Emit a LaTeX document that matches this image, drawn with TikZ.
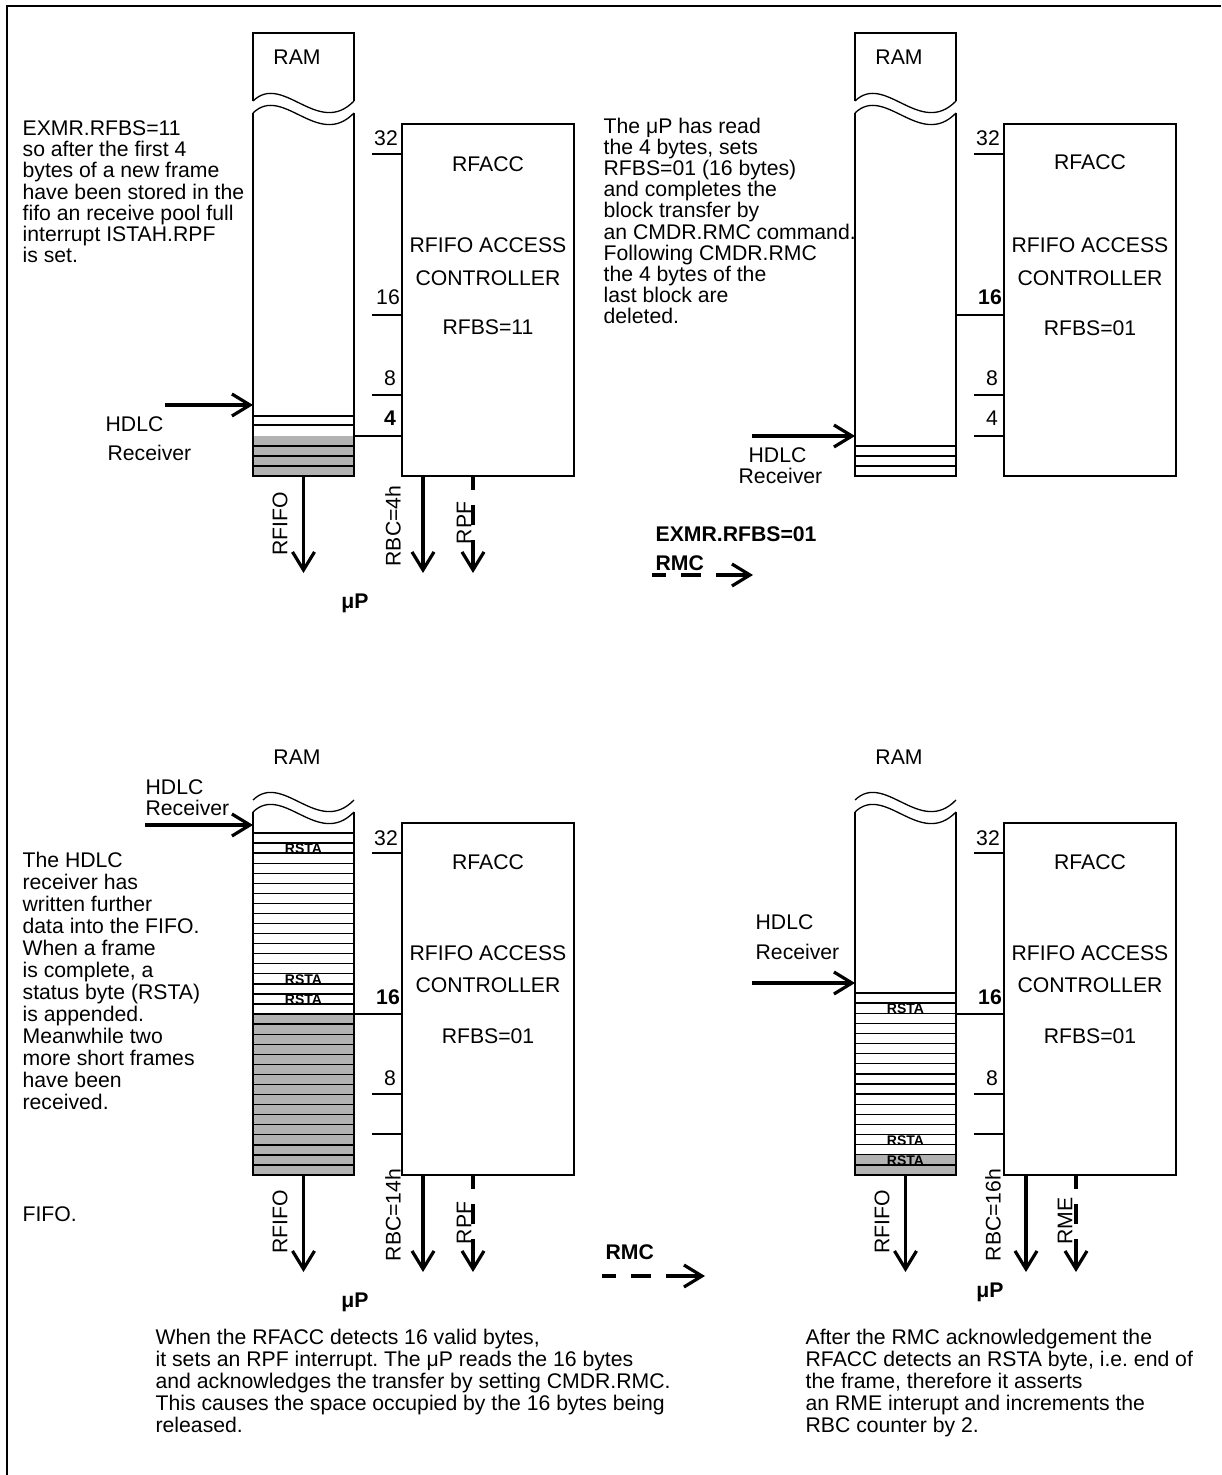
\documentclass[tikz,border=0pt]{standalone}
\usepackage{fontspec}
\setmainfont{Liberation Sans}
\usetikzlibrary{arrows.meta, positioning}
\definecolor{slotgray}{gray}{0.7}
\frenchspacing

% two wave lines that cut the RAM column
\newcommand{\ramwaves}{%
  \draw (253,101) .. controls (283,72) and (318,138) .. (354,101);
  \draw (253,113) .. controls (283,84) and (318,150) .. (354,113);}

\begin{document}
\begin{tikzpicture}[x=0.5pt, y=-0.5pt, line width=0.65pt,
    txt/.style={font=\fontsize{10.6}{10.6}\selectfont, inner sep=0pt},
    boldtxt/.style={font=\fontsize{10.6}{10.6}\selectfont\bfseries, inner sep=0pt},
    rsta/.style={font=\fontsize{7}{7}\selectfont\bfseries, inner sep=0pt},
    note/.style={txt, align=left, anchor=north west},
    widenote/.style={note, font=\fontsize{10.6}{11}\selectfont},
    accbox/.style={draw, minimum width=86pt, minimum height=176pt, anchor=north west, inner sep=0pt, outer sep=0pt},
    ramcol/.style={minimum width=50.5pt, minimum height=181.5pt, anchor=north west, inner sep=0pt, outer sep=0pt},
    bigarrow/.style={line width=1.6pt, -{Straight Barb[length=9pt, width=11pt]}},
    dasharrow/.style={bigarrow, dash pattern=on 7pt off 7.5pt on 10pt off 7.5pt on 80pt}]

    \useasboundingbox (0,0) rectangle (1221,1475);
    \draw (7,1475) -- (7,6) -- (1221,6);

    % ---- top left: first 4 bytes stored
    \draw (253,101) -- (253,33) -- (354,33) -- (354,101);
    \ramwaves
    \node[txt] (ramTL) at (297,57) {RAM};
    \node[ramcol] (fifoTL) at (253,113) {};
    \fill[slotgray] (253,436) rectangle (354,476);
    \foreach \y in {416,425,446,456,466} \draw (253,\y) -- (354,\y);
    \draw (fifoTL.north west) |- (fifoTL.south east) -- (fifoTL.north east);
    \node[accbox] (accTL) at (402,124) {};
    \foreach \y in {154,315,395} \draw (372,\y) -- (402,\y);
    \draw (354,436) -- (402,436);
    \node[txt] at (386,138) {32};
    \node[txt] at (388,297) {16};
    \node[txt] at (390,378) {8};
    \node[boldtxt] at (390,418) {4};
    \node[txt] at (488,164) {RFACC};
    \node[txt] at (488,245) {RFIFO ACCESS};
    \node[txt] at (488,278) {CONTROLLER};
    \node[txt] at (488,327) {RFBS=11};
    \draw[bigarrow] (165,405) -- (fifoTL.west |- 0,405);
    \node[txt, anchor=west] at (105,424) {HDLC};
    \node[txt, anchor=west] at (107,453) {Receiver};
    \draw[bigarrow] (fifoTL.south) -- ++(0,97);
    \draw[bigarrow] (accTL.south -| 423,0) -- ++(0,97);
    \draw[dasharrow] (accTL.south -| 473,0) -- ++(0,97);
    \node[txt, rotate=90] at (280,524) {RFIFO};
    \node[txt, rotate=90] at (393,526) {RBC=4h};
    \node[txt, rotate=90] at (464,523) {RPF};
    \node[boldtxt] at (355,603) {μP};
    \node[note] at (22,120) {EXMR.RFBS=11\\so after the first 4\\bytes of a new frame\\have been stored in the\\fifo an receive pool full\\interrupt ISTAH.RPF\\is set.};

    % ---- top right: block released by RMC
    \begin{scope}[shift={(602,0)}]
    \draw (253,101) -- (253,33) -- (354,33) -- (354,101);
    \ramwaves
    \node[txt] (ramTR) at (297,57) {RAM};
    \node[ramcol] (fifoTR) at (253,113) {};
    \foreach \y in {446,456,466} \draw (253,\y) -- (354,\y);
    \draw (fifoTR.north west) |- (fifoTR.south east) -- (fifoTR.north east);
    \node[accbox] (accTR) at (402,124) {};
    \foreach \y in {154,395,436} \draw (372,\y) -- (402,\y);
    \draw (354,315) -- (402,315);
    \node[txt] at (386,138) {32};
    \node[boldtxt] at (388,297) {16};
    \node[txt] at (390,378) {8};
    \node[txt] at (390,418) {4};
    \node[txt] at (488,162) {RFACC};
    \node[txt] at (488,245) {RFIFO ACCESS};
    \node[txt] at (488,278) {CONTROLLER};
    \node[txt] at (488,328) {RFBS=01};
    \draw[bigarrow] (150,436) -- (fifoTR.west |- 0,436);
    \node[txt, anchor=west] at (146,455) {HDLC};
    \node[txt, anchor=west] at (136,476) {Receiver};
    \end{scope}
    \node[note] at (603,117) {The μP has read\\the 4 bytes, sets\\RFBS=01 (16 bytes)\\and completes the\\block transfer by\\an CMDR.RMC command.\\Following CMDR.RMC\\the 4 bytes of the\\last block are\\deleted.};
    \node[boldtxt, anchor=west] (exmr) at (655,534) {EXMR.RFBS=01};
    \node[boldtxt, anchor=west] (rmcT) at (655,563) {RMC};
    \draw[dasharrow] (652,575) -- (753,575);

    % ---- bottom left: 16 bytes valid
    \begin{scope}[shift={(0,699)}]
    \ramwaves
    \node[txt] (ramBL) at (297,58) {RAM};
    \node[ramcol] (fifoBL) at (253,113) {};
    \fill[slotgray] (253,{134+18*10.06}) rectangle (354,476);
    \foreach \k in {0,...,33} \draw (253,{134+\k*10.06}) -- (354,{134+\k*10.06});
    \foreach \k in {1,14,16} \node[rsta] at (303.5,{140+\k*10.06}) {RSTA};
    \draw (fifoBL.north west) |- (fifoBL.south east) -- (fifoBL.north east);
    \node[accbox] (accBL) at (402,124) {};
    \foreach \y in {154,395,435} \draw (372,\y) -- (402,\y);
    \draw (354,315) -- (402,315);
    \node[txt] at (386,139) {32};
    \node[boldtxt] at (388,298) {16};
    \node[txt] at (390,379) {8};
    \node[txt] at (488,163) {RFACC};
    \node[txt] at (488,254) {RFIFO ACCESS};
    \node[txt] at (488,286) {CONTROLLER};
    \node[txt] at (488,337) {RFBS=01};
    \draw[bigarrow] (145,126) -- (fifoBL.west |- 0,126);
    \node[txt, anchor=west] at (145,88) {HDLC};
    \node[txt, anchor=west] at (145,109) {Receiver};
    \draw[bigarrow] (fifoBL.south) -- ++(0,97);
    \draw[bigarrow] (accBL.south -| 423,0) -- ++(0,97);
    \draw[dasharrow] (accBL.south -| 473,0) -- ++(0,97);
    \node[txt, rotate=90] at (280,523) {RFIFO};
    \node[txt, rotate=90] at (393,516) {RBC=14h};
    \node[txt, rotate=90] at (464,524) {RPF};
    \node[boldtxt] at (355,603) {μP};
    \end{scope}
    \node[widenote] at (22,851) {The HDLC\\receiver has\\written further\\data into the FIFO.\\When a frame\\is complete, a\\status byte (RSTA)\\is appended.\\Meanwhile two\\more short frames\\have been\\received.};
    \node[txt, anchor=west] at (22,1214) {FIFO.};
    \node[widenote] at (155,1328) {When the RFACC detects 16 valid bytes,\\it sets an RPF interrupt. The μP reads the 16 bytes\\and acknowledges the transfer by setting CMDR.RMC.\\This causes the space occupied by the 16 bytes being\\released.};
    \node[boldtxt, anchor=west] (rmcB) at (605,1252) {RMC};
    \draw[dasharrow] (602,1276) -- (705,1276);

    % ---- bottom right: RSTA detected
    \begin{scope}[shift={(602,699)}]
    \ramwaves
    \node[txt] (ramBR) at (297,58) {RAM};
    \node[ramcol] (fifoBR) at (253,113) {};
    \fill[slotgray] (253,{294+16*10.11}) rectangle (354,476);
    \foreach \k in {0,...,17} \draw (253,{294+\k*10.11}) -- (354,{294+\k*10.11});
    \foreach \k in {1,14,16} \node[rsta] at (303.5,{300+\k*10.11}) {RSTA};
    \draw (fifoBR.north west) |- (fifoBR.south east) -- (fifoBR.north east);
    \node[accbox] (accBR) at (402,124) {};
    \foreach \y in {154,395,435} \draw (372,\y) -- (402,\y);
    \draw (354,315) -- (402,315);
    \node[txt] at (386,139) {32};
    \node[boldtxt] at (388,298) {16};
    \node[txt] at (390,379) {8};
    \node[txt] at (488,163) {RFACC};
    \node[txt] at (488,254) {RFIFO ACCESS};
    \node[txt] at (488,286) {CONTROLLER};
    \node[txt] at (488,337) {RFBS=01};
    \draw[bigarrow] (150,284) -- (fifoBR.west |- 0,284);
    \node[txt, anchor=west] at (153,223) {HDLC};
    \node[txt, anchor=west] at (153,253) {Receiver};
    \draw[bigarrow] (fifoBR.south) -- ++(0,97);
    \draw[bigarrow] (accBR.south -| 424,0) -- ++(0,97);
    \draw[dasharrow] (accBR.south -| 474,0) -- ++(0,97);
    \node[txt, rotate=90] at (280,523) {RFIFO};
    \node[txt, rotate=90] at (391,516) {RBC=16h};
    \node[txt, rotate=90] at (463,522) {RME};
    \node[boldtxt] at (388,593) {μP};
    \end{scope}
    \node[widenote] at (805,1328) {After the RMC acknowledgement the\\RFACC detects an RSTA byte, i.e. end of\\the frame, therefore it asserts\\an RME interupt and increments the\\RBC counter by 2.};
\end{tikzpicture}
\end{document}
